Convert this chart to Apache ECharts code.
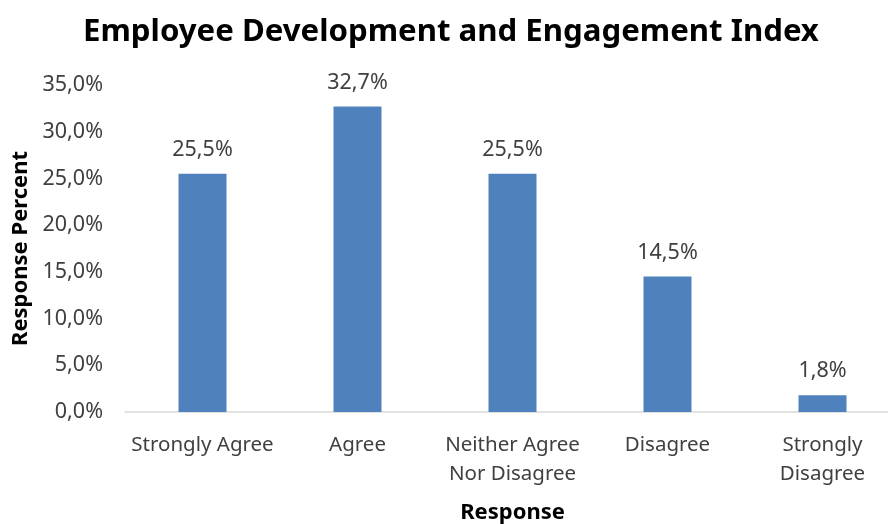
<!DOCTYPE html>
<html>
<head>
<meta charset="utf-8">
<script src="https://cdn.jsdelivr.net/npm/echarts@6/dist/echarts.min.js"></script>
<style>
  html, body { margin: 0; padding: 0; background: #fff; }
  #chart { width: 888px; height: 524px; }
</style>
</head>
<body>
<div id="chart"></div>
<script>
// Survey responses and their share of all answers (percent)
const categories = ['Strongly Agree', 'Agree', 'Neither Agree\nNor Disagree', 'Disagree', 'Strongly\nDisagree'];
const responsePercent = [25.5, 32.7, 25.5, 14.5, 1.8];
const yTicks = { min: 0, max: 35, step: 5 };

const FONT = '"Noto Sans", "Open Sans", sans-serif';
const fmt = v => v.toFixed(1).replace('.', ',') + '%';

const chart = echarts.init(document.getElementById('chart'), null, { renderer: 'canvas' });
chart.setOption({
  animation: false,
  backgroundColor: '#ffffff',
  title: {
    text: 'Employee Development and Engagement Index',
    left: 78,
    top: 12,
    textStyle: { fontFamily: FONT, fontSize: 31.2, fontWeight: 'bold', color: '#000000' }
  },
  grid: {
    left: 125, right: -12, top: 85, bottom: 112,
    containLabel: false,
    outerBoundsMode: 'none'
  },
  xAxis: {
    type: 'category',
    data: categories,
    name: 'Response',
    nameLocation: 'middle',
    nameGap: 90,
    nameTextStyle: { fontFamily: FONT, fontSize: 22, fontWeight: 'bold', color: '#000000' },
    axisLine: { lineStyle: { color: '#d9d9d9', width: 1.5 } },
    axisTick: { show: false },
    axisLabel: {
      fontFamily: FONT, fontSize: 20.5, color: '#404040',
      lineHeight: 29, margin: 19, interval: 0
    }
  },
  yAxis: {
    type: 'value',
    min: yTicks.min,
    max: yTicks.max,
    interval: yTicks.step,
    name: 'Response Percent',
    nameLocation: 'middle',
    nameGap: 91,
    nameRotate: 90,
    nameTextStyle: { fontFamily: FONT, fontSize: 22, fontWeight: 'bold', color: '#000000' },
    axisLine: { show: false },
    axisTick: { show: false },
    splitLine: { show: false },
    axisLabel: {
      fontFamily: FONT, fontSize: 21.5, color: '#404040', margin: 22,
      formatter: v => fmt(v)
    }
  },
  series: [{
    type: 'bar',
    data: responsePercent,
    barWidth: 48,
    itemStyle: { color: '#4f81bd' },
    label: {
      show: true,
      position: 'top',
      distance: 13,
      fontFamily: FONT, fontSize: 21.5, color: '#404040',
      formatter: p => fmt(p.value)
    }
  }]
});
</script>
</body>
</html>
